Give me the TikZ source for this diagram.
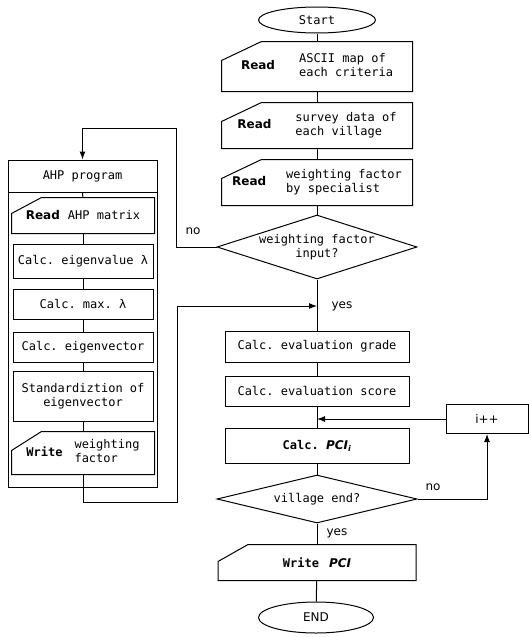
\documentclass[tikz,border=0pt]{standalone}
\usepackage{fontspec}
\setmonofont{DejaVu Sans Mono}
\setsansfont{DejaVu Sans}
\usetikzlibrary{arrows.meta,shapes.geometric}

\tikzset{
  box/.style={draw, rectangle, inner sep=0pt, align=center},
  iobox/.style={rectangle, inner sep=0pt, align=center},
  term/.style={draw, ellipse, inner sep=0pt},
  decide/.style={draw, diamond, inner sep=0pt, align=center},
  lbl/.style={font=\sffamily\fontsize{12}{14}\selectfont, inner sep=0pt},
  arr/.style={-{Latex[length=8pt,width=6pt]}}
}
% cut-corner outline of an input/output node
\newcommand{\ioframe}[3]{%
  \draw (#1.south west) -- (#1.south east) -- (#1.north east)
    -- ([xshift=#2pt]#1.north west) -- ([yshift=-#3pt]#1.north west) -- cycle;}

\begin{document}
\begin{tikzpicture}[x=1pt, y=-1pt, line width=1, font=\ttfamily\fontsize{12}{14}\selectfont]
  \useasboundingbox (0,0) rectangle (529,637);
  % main column
  \node[term, minimum width=117pt, minimum height=26pt] (start) at (317,20) {Start};
  \node[iobox, minimum width=190pt, minimum height=49pt] (read1) at (317,66.5)
    {{\sffamily\bfseries Read}\hspace{24pt}\begin{tabular}{@{}l@{}}ASCII map of\\each criteria\end{tabular}};
  \ioframe{read1}{40}{19}
  \node[iobox, minimum width=190pt, minimum height=45pt] (read2) at (317,125.5)
    {{\sffamily\bfseries Read}\hspace{24pt}\begin{tabular}{@{}l@{}}survey data of\\each village\end{tabular}};
  \ioframe{read2}{40}{19}
  \node[iobox, minimum width=190pt, minimum height=45pt] (read3) at (317,182.5)
    {{\sffamily\bfseries Read}\hspace{20pt}\begin{tabular}{@{}l@{}}weighting factor\\by specialist\end{tabular}};
  \ioframe{read3}{40}{19}
  \node[decide, minimum width=200pt, minimum height=64pt, aspect=3.1] (dec1) at (317,247)
    {weighting factor\\input?};
  \node[box, minimum width=184pt, minimum height=31pt] (grade) at (317,346.5) {Calc. evaluation grade};
  \node[box, minimum width=184pt, minimum height=30pt] (score) at (317,391) {Calc. evaluation score};
  \node[box, minimum width=184pt, minimum height=35pt] (pci) at (317,445.5)
    {{\bfseries Calc.} {\sffamily\bfseries\itshape PCI\textsubscript{i}}};
  \node[decide, minimum width=200pt, minimum height=48pt, aspect=4.2] (dec2) at (317,499) {village end?};
  \node[iobox, minimum width=197pt, minimum height=35pt] (writepci) at (317,562.5)
    {{\bfseries Write}\hspace{10pt}{\sffamily\bfseries\itshape PCI}};
  \ioframe{writepci}{30}{17}
  \node[term, minimum width=115pt, minimum height=31pt] (end) at (316,617.5) {\sffamily END};
  \node[box, minimum width=82pt, minimum height=29pt] (inc) at (487,419) {\sffamily i++};

  % AHP program
  \node[box, minimum width=149pt, minimum height=327pt] (ahpframe) at (82.5,323.5) {};
  \node[box, minimum width=149pt, minimum height=32pt, anchor=north] (ahptitle) at (ahpframe.north) {AHP program};
  \node[iobox, minimum width=142pt, minimum height=35pt] (ahpread) at (83,215.5)
    {{\sffamily\bfseries Read}\hspace{8pt}AHP matrix};
  \ioframe{ahpread}{30}{16}
  \node[box, minimum width=140pt, minimum height=34pt] (eigval) at (83,261) {Calc. eigenvalue λ};
  \node[box, minimum width=140pt, minimum height=30pt] (maxl) at (83,304) {Calc. max. λ};
  \node[box, minimum width=140pt, minimum height=30pt] (eigvec) at (83,347) {Calc. eigenvector};
  \node[box, minimum width=140pt, minimum height=50pt] (stdz) at (83,396) {Standardiztion of\\eigenvector};
  \node[iobox, minimum width=142pt, minimum height=42pt] (ahpwrite) at (83,453)
    {{\bfseries Write}\hspace{12pt}\begin{tabular}{@{}l@{}}weighting\\factor\end{tabular}};
  \ioframe{ahpwrite}{30}{19}

  % labels
  \node[lbl] (no1) at (193,231) {no};
  \node[lbl] (yes1) at (342,306) {yes};
  \node[lbl] (no2) at (433,487) {no};
  \node[lbl] (yes2) at (337,533) {yes};
  \coordinate (notop) at (176,128);
  \coordinate (retcorner) at (177,502);

  % connectors
  \draw (start) -- (read1);
  \draw (read1) -- (read2);
  \draw (read2) -- (read3);
  \draw (read3) -- (dec1);
  \draw (dec1) -- (grade);
  \draw (grade) -- (score);
  \draw (score) -- (pci);
  \draw (pci) -- (dec2);
  \draw (dec2) -- (writepci);
  \draw (writepci) -- (end);
  \draw (ahptitle) -- (ahpread);
  \draw (ahpread) -- (eigval);
  \draw (eigval) -- (maxl);
  \draw (maxl) -- (eigvec);
  \draw (eigvec) -- (stdz);
  \draw (stdz) -- (ahpwrite);
  \draw[arr] (dec1.west) -| (notop) -| (ahpframe.north);
  \draw[arr] (ahpwrite.south) |- (retcorner) |- (dec1.south |- yes1.west);
  \draw[arr] (inc.west) -- (score.south |- inc.west);
  \draw[arr] (dec2.east) -| (inc.south);
\end{tikzpicture}
\end{document}
